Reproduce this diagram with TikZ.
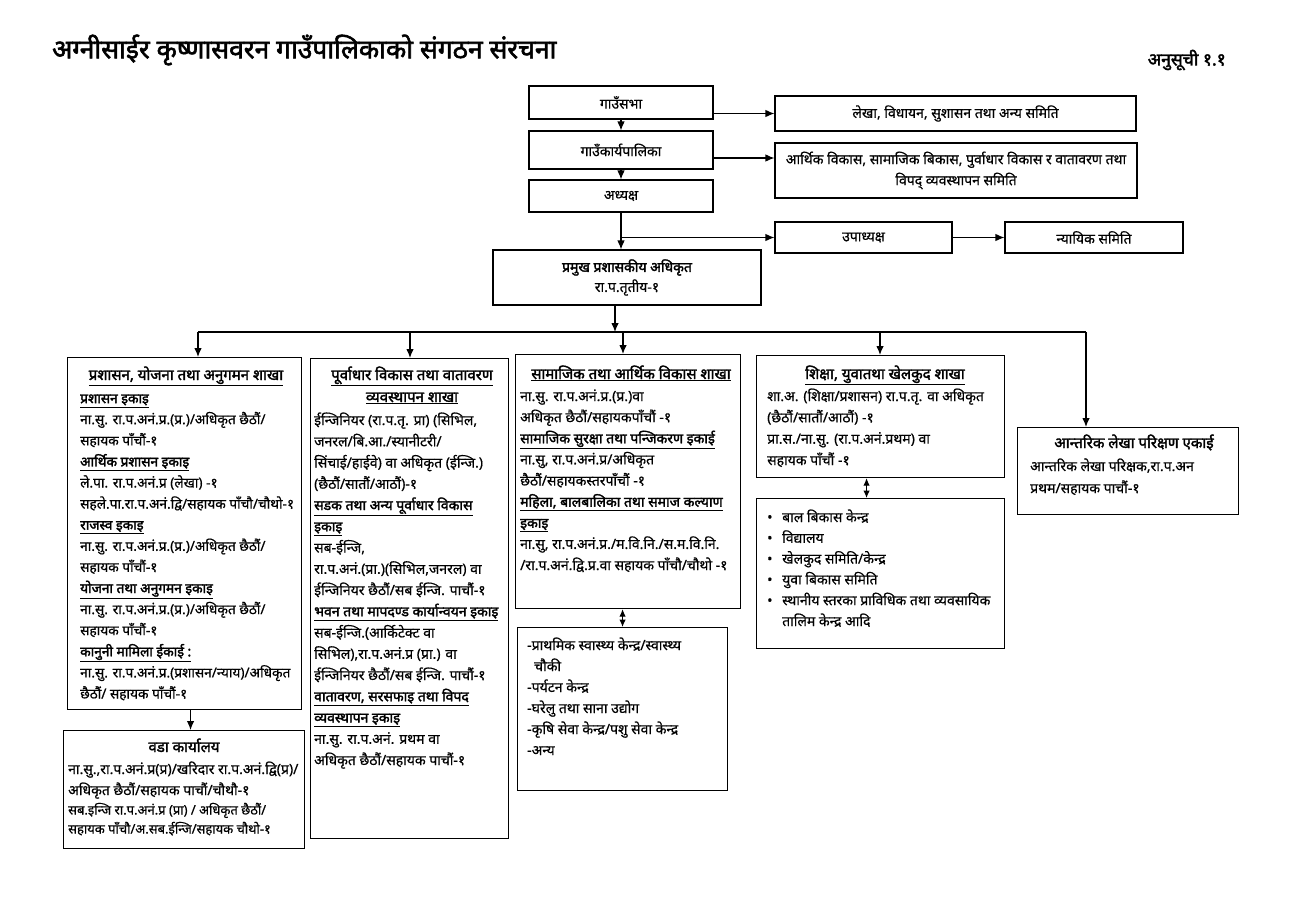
\documentclass[tikz,border=0pt]{standalone}
\usepackage{fontspec}
\newfontfamily\dev[Script=Devanagari,FakeBold=0.5]{Noto Sans}
\newfontfamily\devb[Script=Devanagari,FakeBold=2.2]{Noto Sans}
\usetikzlibrary{arrows.meta}
\newcommand{\ulh}[1]{\underline{{\devb #1}}}
\newcommand{\bd}[1]{{\devb #1}}
\tikzset{
  box/.style={draw, line width=1.1pt, inner sep=0pt},
  lbl/.style={font=\dev\fontsize{14}{20}\selectfont, align=center},
  txt/.style={font=\dev\fontsize{14}{21.2}\selectfont, inner sep=0pt, align=left, anchor=base west},
  hdr/.style={font=\devb\fontsize{15}{22}\selectfont, inner sep=0pt, align=center, anchor=base},
  arr/.style={line width=1.1pt, -{Latex[length=9pt,width=7.5pt]}},
  darr/.style={line width=1.1pt, {Latex[length=7.5pt,width=6.5pt]}-{Latex[length=7.5pt,width=6.5pt]}},
  ln/.style={line width=1.1pt}
}
\begin{document}
\begin{tikzpicture}[x=1pt,y=-1pt]
\useasboundingbox[fill=white] (0,0) rectangle (1307,910);

% title
\node[anchor=west, inner sep=0pt, font=\devb\fontsize{26.4}{30}\selectfont] (title) at (52,50) {अग्नीसाईर कृष्णासवरन गाउँपालिकाको संगठन संरचना};
\node[anchor=east, inner sep=0pt, font=\devb\fontsize{17.5}{20}\selectfont] (anusuchi) at (1226,60) {अनुसूची १.१};

% top chain
\node[box, lbl, minimum width=184pt, minimum height=33pt] (sabha) at (621,102.5) {गाउँसभा};
\node[box, lbl, minimum width=184pt, minimum height=38pt] (karya) at (621,150) {गाउँकार्यपालिका};
\node[box, lbl, minimum width=184pt, minimum height=32pt] (adhyaksha) at (621,196) {अध्यक्ष};
\node[box, lbl, minimum width=361pt, minimum height=35pt] (lekha) at (955.5,113.5) {लेखा, विधायन, सुशासन तथा अन्य समिति};
\node[box, lbl, font=\dev\fontsize{14}{21}\selectfont, minimum width=362pt, minimum height=55pt] (arthik) at (956,170.5) {आर्थिक विकास, सामाजिक बिकास, पुर्वाधार विकास र वातावरण तथा\\विपद् व्यवस्थापन समिति};
\node[box, lbl, minimum width=177pt, minimum height=31pt] (upa) at (863.5,237.5) {उपाध्यक्ष};
\node[box, lbl, minimum width=178pt, minimum height=31pt] (nyayik) at (1094,237.5) {न्यायिक समिति};
\node[box, lbl, minimum width=268pt, minimum height=55pt] (pramukh) at (627,277.5) {\bd{प्रमुख प्रशासकीय अधिकृत}\\रा.प.तृतीय-१};

\draw[arr] (sabha) -- (karya);
\draw[arr] (karya) -- (adhyaksha);
\draw[arr] (sabha.east |- lekha.west) -- (lekha.west);
\draw[arr] ([yshift=-8pt]karya.east) -- ([yshift=-8pt]karya.east -| arthik.west);
\draw[arr] (adhyaksha.south) -- (adhyaksha.south |- pramukh.north);
\draw[arr] (adhyaksha.south |- upa.west) -- (upa.west);
\draw[arr] (upa) -- (nyayik);

% branch boxes
\node[box, anchor=north west, minimum width=234pt, minimum height=352pt] (b1) at (67,357) {};
\node[box, anchor=north west, minimum width=198pt, minimum height=480pt] (b2) at (310,358) {};
\node[box, anchor=north west, minimum width=225pt, minimum height=254pt] (b3) at (515,354) {};
\node[box, anchor=north west, minimum width=248pt, minimum height=122pt] (b4) at (756,355) {};
\node[box, anchor=north west, minimum width=221pt, minimum height=87pt] (b5) at (1017,427) {};
\node[box, anchor=north west, minimum width=248pt, minimum height=150pt] (b4s) at (756,498) {};
\node[box, anchor=north west, minimum width=210pt, minimum height=163pt] (b3s) at (517,627) {};
\node[box, anchor=north west, minimum width=241pt, minimum height=118pt] (wada) at (63,730) {};

% bus
\coordinate (busM) at (615,332);
\coordinate (bus1) at (198,332);
\coordinate (bus2) at (410,332);
\coordinate (bus3) at (623,332);
\coordinate (bus4) at (880,332);
\coordinate (bus5) at (1086,332);
\draw[arr] (pramukh.south -| busM) -- (busM);
\draw[ln] (bus1) -- (bus5);
\draw[arr] (bus1) -- (bus1 |- b1.north);
\draw[arr] (bus2) -- (bus2 |- b2.north);
\draw[arr] (bus3) -- (bus3 |- b3.north);
\draw[arr] (bus4) -- (bus4 |- b4.north);
\draw[arr] (bus5) -- (bus5 |- b5.north);
\draw[arr] ([xshift=6pt]b1.south) -- ([xshift=6pt]b1.south |- wada.north);
\draw[darr] ([xshift=-14pt]b4.south) -- ([xshift=-14pt]b4.south |- b4s.north);
\draw[darr] (b3.south -| b3s.north) -- (b3s.north);

% box 1 text (anchor = baseline of last line)
\node[hdr] (h1) at (186,380) {\underline{प्रशासन, योजना तथा अनुगमन शाखा}};
\node[txt, font=\dev\fontsize{13.7}{21.1}\selectfont] (t1) at (80,698.5) {\ulh{प्रशासन इकाइ}\\
ना.सु. रा.प.अनं.प्र.(प्र.)/अधिकृत छैठौं/\\
सहायक पाँचौं-१\\
\ulh{आर्थिक प्रशासन इकाइ}\\
ले.पा. रा.प.अनं.प्र (लेखा) -१\\
सहले.पा.रा.प.अनं.द्वि/सहायक पाँचौ/चौथो-१\\
\ulh{राजस्व इकाइ}\\
ना.सु. रा.प.अनं.प्र.(प्र.)/अधिकृत छैठौं/\\
सहायक पाँचौं-१\\
\ulh{योजना तथा अनुगमन इकाइ}\\
ना.सु. रा.प.अनं.प्र.(प्र.)/अधिकृत छैठौं/\\
सहायक पाँचौं-१\\
\ulh{कानुनी मामिला ईकाई :}\\
ना.सु. रा.प.अनं.प्र.(प्रशासन/न्याय)/अधिकृत\\
छैठौं/ सहायक पाँचौं-१};

% box 2 text
\node[hdr] (h2) at (412,402) {\underline{पूर्वाधार विकास तथा वातावरण}\\\underline{व्यवस्थापन शाखा}};
\node[txt, font=\dev\fontsize{14}{21.25}\selectfont] (t2) at (314,765) {ईन्जिनियर (रा.प.तृ. प्रा) (सिभिल,\\
जनरल/बि.आ./स्यानीटरी/\\
सिंचाई/हाईवे) वा अधिकृत (ईन्जि.)\\
(छैठौं/सातौं/आठौं)-१\\
\ulh{सडक तथा अन्य पूर्वाधार विकास}\\
\ulh{इकाइ}\\
सब-ईन्जि,\\
रा.प.अनं.(प्रा.)(सिभिल,जनरल) वा\\
ईन्जिनियर छैठौं/सब ईन्जि. पाचौं-१\\
\ulh{भवन तथा मापदण्ड कार्यान्वयन इकाइ}\\
सब-ईन्जि.(आर्किटेक्ट वा\\
सिभिल),रा.प.अनं.प्र (प्रा.) वा\\
ईन्जिनियर छैठौं/सब ईन्जि. पाचौं-१\\
\ulh{वातावरण, सरसफाइ तथा विपद}\\
\ulh{व्यवस्थापन इकाइ}\\
ना.सु. रा.प.अनं. प्रथम वा\\
अधिकृत छैठौं/सहायक पाचौं-१};

% box 3 text
\node[hdr] (h3) at (631,379) {\underline{सामाजिक तथा आर्थिक विकास शाखा}};
\node[txt, font=\dev\fontsize{14}{21.125}\selectfont] (t3) at (520,570) {ना.सु. रा.प.अनं.प्र.(प्र.)वा\\
अधिकृत छैठौं/सहायकपाँचौं -१\\
\ulh{सामाजिक सुरक्षा तथा पन्जिकरण इकाई}\\
ना.सु, रा.प.अनं.प्र/अधिकृत\\
छैठौं/सहायकस्तरपाँचौं -१\\
\ulh{महिला, बालबालिका तथा समाज कल्याण}\\
\ulh{इकाइ}\\
ना.सु, रा.प.अनं.प्र./म.वि.नि./स.म.वि.नि.\\
/रा.प.अनं.द्वि.प्र.वा सहायक पाँचौ/चौथो -१};

% box 4 text
\node[hdr] (h4) at (885,379) {\underline{शिक्षा, युवातथा खेलकुद शाखा}};
\node[txt, font=\dev\fontsize{14}{21.33}\selectfont] (t4) at (767,465) {शा.अ. (शिक्षा/प्रशासन) रा.प.तृ. वा अधिकृत\\
(छैठौं/सातौं/आठौं) -१\\
प्रा.स./ना.सु. (रा.प.अनं.प्रथम) वा\\
सहायक पाँचौं -१};

% box 5 text
\node[hdr] (h5) at (1134,448) {आन्तरिक लेखा परिक्षण एकाई};
\node[txt, font=\dev\fontsize{14}{22}\selectfont] (t5) at (1030,493) {आन्तरिक लेखा परिक्षक,रा.प.अन\\
प्रथम/सहायक पाचौं-१};

% box 4 sub text
\node[txt, font=\dev\fontsize{14}{20.8}\selectfont] (t4s) at (767,626) {\makebox[15pt][l]{•}बाल बिकास केन्द्र\\
\makebox[15pt][l]{•}विद्यालय\\
\makebox[15pt][l]{•}खेलकुद समिति/केन्द्र\\
\makebox[15pt][l]{•}युवा बिकास समिति\\
\makebox[15pt][l]{•}स्थानीय स्तरका प्राविधिक तथा व्यवसायिक\\
\makebox[15pt][l]{}तालिम केन्द्र आदि};

% box 3 sub text
\node[txt, font=\dev\fontsize{14}{21}\selectfont] (t3s) at (527,755) {-प्राथमिक स्वास्थ्य केन्द्र/स्वास्थ्य\\
\makebox[7pt][l]{}चौकी\\
-पर्यटन केन्द्र\\
-घरेलु तथा साना उद्योग\\
-कृषि सेवा केन्द्र/पशु सेवा केन्द्र\\
-अन्य};

% wada text
\node[hdr] (hw) at (184,752) {वडा कार्यालय};
\node[txt, font=\dev\fontsize{14}{21}\selectfont] (tw) at (68,795) {ना.सु.,रा.प.अनं.प्र(प्र)/खरिदार रा.प.अनं.द्वि(प्र)/\\
अधिकृत छैठौं/सहायक पाचौं/चौथौ-१};
\node[txt, font=\dev\fontsize{13}{19}\selectfont] (tw2) at (68,833.5) {सब.इन्जि रा.प.अनं.प्र (प्रा) / अधिकृत छैठौं/\\
सहायक पाँचौ/अ.सब.ईन्जि/सहायक चौथो-१};
\end{tikzpicture}
\end{document}
